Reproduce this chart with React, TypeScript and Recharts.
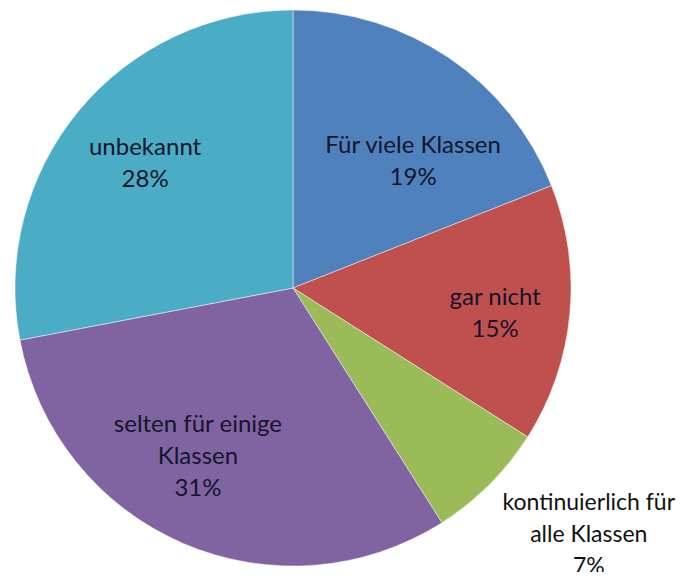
import React from "react";
import { PieChart, Pie, Cell } from "recharts";

const categories = [
  "Für viele Klassen",
  "gar nicht",
  "kontinuierlich für alle Klassen",
  "selten für einige Klassen",
  "unbekannt",
];
const values = [19, 15, 7, 31, 28];
const labelLines = [
  ["Für viele Klassen"],
  ["gar nicht"],
  ["kontinuierlich für", "alle Klassen"],
  ["selten für einige", "Klassen"],
  ["unbekannt"],
];
const colors = ["#4F81BD", "#C0504D", "#9BBB59", "#8064A2", "#4BACC6"];

// label block centers relative to the pie center, as fractions of the radius
const labelOffsets: [number, number][] = [
  [0.432, -0.459],
  [0.727, 0.09],
  [1.064, 0.885],
  [-0.342, 0.604],
  [-0.532, -0.45],
];
const labelSizes = [24, 24, 23, 24, 24];

const data = categories.map((name, i) => ({ name, value: values[i] }));

const LINE_H = 32;

const renderLabel = (props: any) => {
  const { cx, cy, outerRadius, index, value } = props;
  const [fx, fy] = labelOffsets[index];
  const fs = labelSizes[index];
  const bx = cx + fx * outerRadius;
  const by = cy + fy * outerRadius;
  const lines = [...labelLines[index], `${value}%`];
  const top = by - ((lines.length - 1) * LINE_H) / 2;
  const outside = index === 2;
  return (
    <text
      key={`lbl-${index}`}
      x={bx}
      y={top}
      textAnchor="middle"
      fill={outside ? "#111111" : "#15152b"}
      fontFamily="Lato, 'Open Sans', sans-serif"
      fontSize={fs}
    >
      {lines.map((l, i) => (
        <tspan key={i} x={bx} y={top + i * LINE_H + fs * 0.35}>
          {l}
        </tspan>
      ))}
    </text>
  );
};

export default function App() {
  return (
    <div style={{ margin: -8, width: 685, height: 580, background: "#fff" }}>
      <PieChart width={685} height={580} margin={{ top: 0, right: 0, bottom: 0, left: 0 }}>
        <Pie
          data={data}
          dataKey="value"
          nameKey="name"
          cx={293}
          cy={288}
          outerRadius={278}
          startAngle={90}
          endAngle={-270}
          isAnimationActive={false}
          label={renderLabel}
          labelLine={false}
          stroke="rgba(255,255,255,0.45)"
          strokeWidth={1}
        >
          {data.map((d, i) => (
            <Cell key={d.name} fill={colors[i]} />
          ))}
        </Pie>
      </PieChart>
    </div>
  );
}
